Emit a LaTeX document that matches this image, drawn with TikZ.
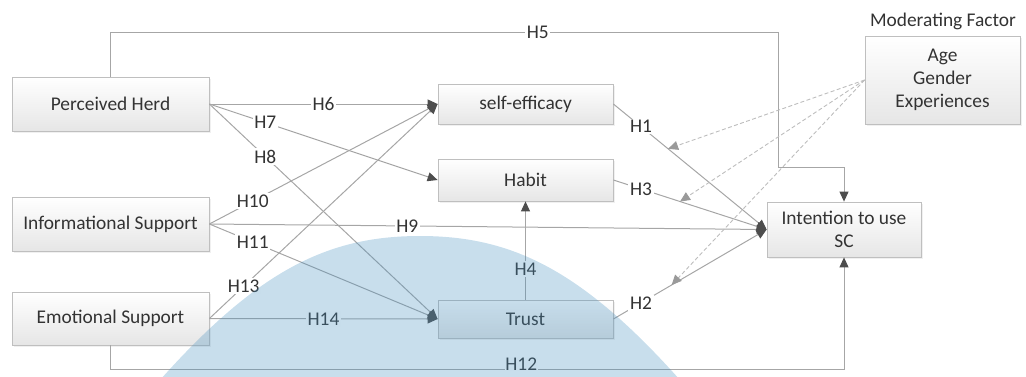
\documentclass[tikz,border=0pt]{standalone}
\usepackage{fontspec}
\setmainfont{Carlito}
\usetikzlibrary{arrows.meta,positioning,shadows}

\definecolor{boxline}{HTML}{BFBFBF}
\definecolor{boxshade}{HTML}{E6E6E6}
\definecolor{linkgray}{HTML}{A6A6A6}
\definecolor{tipgray}{HTML}{4D4D4D}
\definecolor{dashgray}{HTML}{BDBDBD}
\definecolor{dashtip}{HTML}{9A9A9A}
\definecolor{markblue}{HTML}{4891C0}
\definecolor{textgray}{HTML}{333333}

\begin{document}
\begin{tikzpicture}[
  x=0.5pt, y=-0.5pt,
  every node/.style={align=center, font=\fontsize{9.7}{11.6}\selectfont, text=textgray},
  box/.style={rectangle, draw=boxline, top color=white, bottom color=boxshade, inner sep=0pt,
    drop shadow={opacity=0.12, shadow xshift=0.8pt, shadow yshift=-0.8pt}},
  arrow/.style={-{Triangle[length=5pt, width=4.5pt, color=tipgray]}, draw=linkgray, line width=0.5pt},
  dasharrow/.style={-{Triangle[length=5pt, width=4.5pt, color=dashtip]}, draw=dashgray,
    dash pattern=on 2pt off 1.2pt, line width=0.45pt},
  hlabel/.style={fill=white, inner sep=0.8pt}
]
\useasboundingbox (0,0) rectangle (1026,376);

% constructs
\node[box, minimum width=98.5pt, minimum height=27pt] (herd) at (110.5,104) {Perceived Herd};
\node[box, minimum width=98.5pt, minimum height=27pt] (info) at (110.5,224) {Informational Support};
\node[box, minimum width=98.5pt, minimum height=26.5pt] (emo) at (110.5,318.5) {Emotional Support};
\node[box, minimum width=87.5pt, minimum height=20pt] (eff) at (525.5,104) {self-efficacy};
\node[box, minimum width=87.5pt, minimum height=21pt] (habit) at (525.5,180) {Habit};
\node[box, minimum width=87.5pt, minimum height=19pt] (trust) at (525.5,319) {Trust};
\node[box, minimum width=77pt, minimum height=27.5pt] (intent) at (844,229.5) {Intention to use\\SC};
\node[box, minimum width=77.5pt, minimum height=44pt] (mod) at (942.5,80) {Age\\Gender\\Experiences};
\node (modtitle) at (943,21) {Moderating Factor};

\coordinate (h5top) at (778,32);
\coordinate (h5drop) at (778,167);
\coordinate (h12low) at (844,369);

% hypotheses
\draw[arrow] (herd.north) |- node[hlabel, pos=0.82] {H5} (h5top) -- (h5drop) -| (intent.north);
\draw[arrow] (herd.east) -- node[hlabel, pos=0.5] {H6} (eff.west);
\draw[arrow] (herd.east) -- node[hlabel, pos=0.245] {H7} (habit.west);
\draw[arrow] (herd.east) -- node[hlabel, pos=0.245] {H8} (trust.west);
\draw[arrow] (info.east) -- node[hlabel, pos=0.19] {H10} (eff.west);
\draw[arrow] (info.east) -- node[hlabel, pos=0.355] {H9} (intent.west);
\draw[arrow] (info.east) -- node[hlabel, pos=0.19] {H11} (trust.west);
\draw[arrow] (emo.east) -- node[hlabel, pos=0.15] {H13} (eff.west);
\draw[arrow] (emo.east) -- node[hlabel, pos=0.5] {H14} (trust.west);
\draw[arrow] (emo.south) |- node[hlabel, pos=0.78, yshift=2.6pt, inner sep=0.3pt] {H12} (h12low) -- (intent.south);
\draw[arrow] (trust.north) -- node[hlabel, pos=0.31] {H4} (habit.south);
\draw[arrow] (eff.east) -- node[hlabel, pos=0.18] {H1} coordinate[pos=0.357] (m1) (intent.west);
\draw[arrow] (habit.east) -- node[hlabel, pos=0.18] {H3} coordinate[pos=0.435] (m3) (intent.west);
\draw[arrow] (trust.east) -- node[hlabel, pos=0.18] {H2} coordinate[pos=0.38] (m2) (intent.west);

% moderation
\draw[dasharrow] (mod.west) -- (m1);
\draw[dasharrow] (mod.west) -- (m3);
\draw[dasharrow] (mod.west) -- (m2);

% watermark
\fill[markblue, fill opacity=0.3] (160,380) .. controls (260,268) and (330,236) .. (420,236)
  .. controls (510,236) and (580,268) .. (680,380) -- cycle;
\end{tikzpicture}
\end{document}
